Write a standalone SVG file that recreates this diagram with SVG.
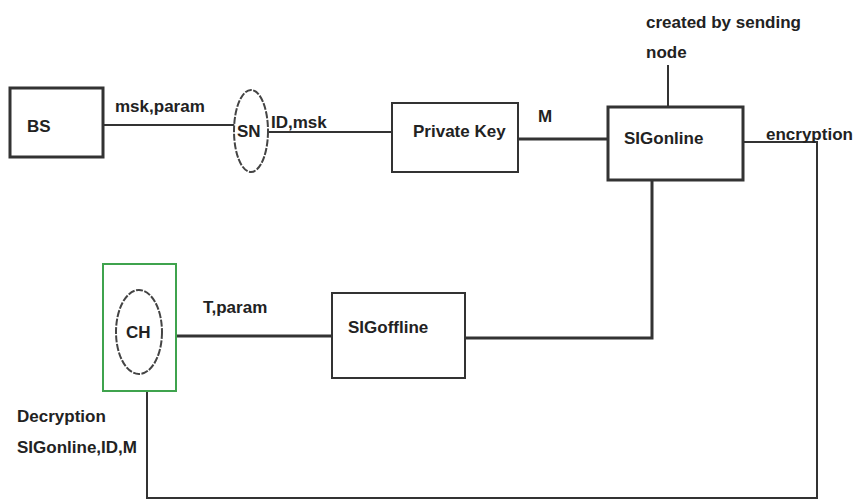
<svg xmlns="http://www.w3.org/2000/svg" width="857" height="502" viewBox="0 0 857 502">
<style>
.box{fill:#fff;stroke:#333;stroke-width:2}
.thick{stroke-width:3}
.ell{fill:#fff;stroke:#444;stroke-width:2;stroke-dasharray:7 1.5}
.ln{fill:none;stroke:#333;stroke-width:2}
.ln3{fill:none;stroke:#333;stroke-width:3}
text{font-family:"Liberation Sans",Arial,sans-serif;font-weight:bold;font-size:17px;fill:#222}
</style>
<rect width="857" height="502" fill="#fff"/>
<g id="connectors">
<line class="ln" x1="103" y1="125" x2="235" y2="125"/>
<line class="ln" x1="268" y1="132" x2="392" y2="132"/>
<line class="ln3" x1="518" y1="139" x2="608" y2="139"/>
<line class="ln" x1="668" y1="65" x2="668" y2="107"/>
<polyline class="ln" points="743,142 817,142 817,498 147,498 147,391"/>
<polyline class="ln3" points="652,180 652,338 465,338"/>
<line class="ln3" x1="176" y1="336" x2="332" y2="336"/>
</g>
<g id="BS">
<rect class="box thick" x="10" y="88" width="93" height="69"/>
<text x="27" y="132">BS</text>
</g>
<g id="SN">
<ellipse class="ell" cx="251" cy="131" rx="17" ry="41"/>
<text x="237" y="137">SN</text>
</g>
<g id="PrivateKey">
<rect class="box" x="392" y="103" width="126" height="69"/>
<text x="413" y="137">Private Key</text>
</g>
<g id="SIGonline">
<rect class="box thick" x="608" y="107" width="135" height="73"/>
<text x="624" y="144">SIGonline</text>
</g>
<g id="SIGoffline">
<rect class="box" x="332" y="293" width="133" height="85"/>
<text x="348" y="333">SIGoffline</text>
</g>
<g id="CH">
<rect x="103" y="264" width="73" height="127" fill="#fff" stroke="#3fa34d" stroke-width="2"/>
<ellipse class="ell" cx="139" cy="332" rx="23" ry="42"/>
<text x="126" y="338">CH</text>
</g>
<g id="labels">
<text x="115" y="112">msk,param</text>
<text x="271" y="128">ID,msk</text>
<text x="538" y="122">M</text>
<text x="646" y="28">created by sending</text>
<text x="646" y="58">node</text>
<text x="766" y="140">encryption</text>
<text x="203" y="313">T,param</text>
<text x="17" y="422">Decryption</text>
<text x="17" y="453">SIGonline,ID,M</text>
</g>
</svg>
